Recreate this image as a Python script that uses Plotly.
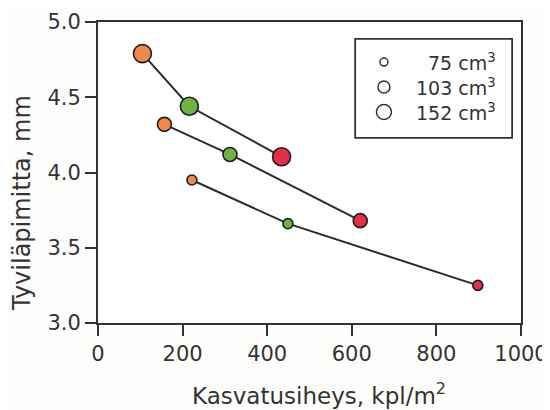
import plotly.graph_objects as go

# Data
volumes = ["75 cm<sup>3</sup>", "103 cm<sup>3</sup>", "152 cm<sup>3</sup>"]
density_75 = [222, 449, 898]
diameter_75 = [3.95, 3.66, 3.25]
density_103 = [157, 312, 620]
diameter_103 = [4.32, 4.12, 3.68]
density_152 = [105, 216, 434]
diameter_152 = [4.79, 4.44, 4.105]
point_colors = ["#F0884A", "#6DB443", "#E23048"]

x_ticks = [0, 200, 400, 600, 800, 1000]
y_ticks = [3.0, 3.5, 4.0, 4.5, 5.0]
x_title = "Kasvatusiheys, kpl/m<sup>2</sup>"
y_title = "Tyviläpimitta, mm"

marker_sizes = [10, 14, 18]
legend_sizes = [8, 12, 15]

FONT = "DejaVu Sans, Liberation Sans, Arial, sans-serif"
TXT = "#333333"

fig = go.Figure()
series = [(density_75, diameter_75), (density_103, diameter_103), (density_152, diameter_152)]
for (xs, ys), name, ms in zip(series, volumes, marker_sizes):
    fig.add_trace(go.Scatter(
        x=xs, y=ys, mode="lines+markers", name=name,
        line=dict(color="#2b2b2b", width=2),
        marker=dict(size=ms, color=point_colors, line=dict(color="#1e1e1e", width=1.6)),
        showlegend=False, cliponaxis=False,
    ))

# Manual legend box
lx0, lx1, ly0, ly1 = 0.608, 0.979, 0.615, 0.944
fig.add_shape(type="rect", xref="paper", yref="paper", x0=lx0, x1=lx1, y0=ly0, y1=ly1,
              line=dict(color="#333333", width=1.8), fillcolor="rgba(0,0,0,0)")
row_y = [0.867, 0.784, 0.701]
for name, ys, ls in zip(volumes, row_y, legend_sizes):
    fig.add_shape(type="circle", xref="paper", yref="paper", xsizemode="pixel", ysizemode="pixel",
                  xanchor=0.676, yanchor=ys, x0=-ls / 2, x1=ls / 2, y0=-ls / 2, y1=ls / 2,
                  line=dict(color="#333333", width=1.5))
    fig.add_annotation(xref="paper", yref="paper", x=0.945, y=ys, text=name, showarrow=False,
                       xanchor="right", yanchor="middle",
                       font=dict(size=19, color=TXT, family=FONT))

# Axis titles as annotations (placed as in the reference)
fig.add_annotation(xref="paper", yref="paper", x=0.522, y=-0.235, text=x_title, showarrow=False,
                   xanchor="center", yanchor="middle", font=dict(size=23, color=TXT, family=FONT))
fig.add_annotation(xref="paper", yref="paper", x=-0.181, y=0.40, text=y_title, showarrow=False,
                   textangle=-90, xanchor="center", yanchor="middle",
                   font=dict(size=24, color=TXT, family=FONT))

axis_common = dict(
    showline=True, linecolor="#333333", linewidth=2, mirror=True,
    ticks="outside", ticklen=11, tickwidth=2, tickcolor="#333333",
    showgrid=False, zeroline=False,
    tickfont=dict(size=21, color=TXT, family=FONT),
)

fig.update_xaxes(range=[0, 1000], tickvals=x_ticks, **axis_common)
fig.update_yaxes(range=[3.0, 5.0], tickvals=y_ticks, tickformat=".1f", **axis_common)

fig.update_layout(
    width=550, height=410,
    margin=dict(l=90, r=37, t=14, b=95, autoexpand=False),
    paper_bgcolor="#fdfdfb", plot_bgcolor="#ffffff",
    font=dict(family=FONT, color=TXT),
)

fig.write_html("out.html")
